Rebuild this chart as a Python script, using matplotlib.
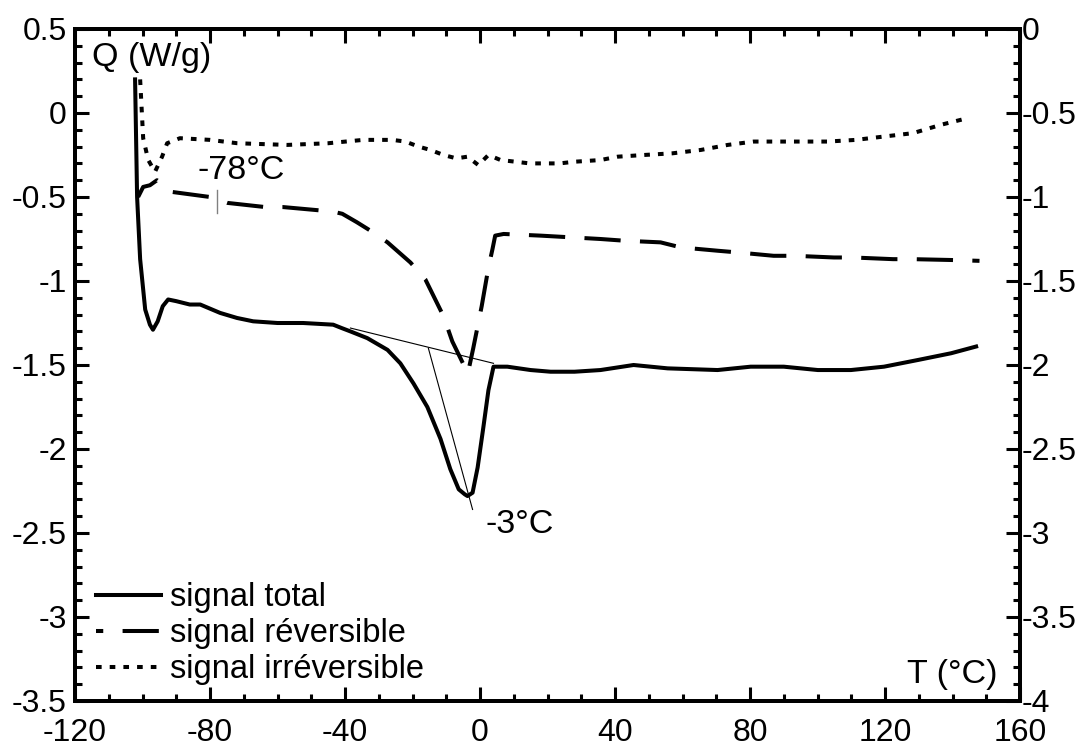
import matplotlib
matplotlib.use("Agg")
import matplotlib.pyplot as plt
from matplotlib.ticker import MultipleLocator, FuncFormatter
from matplotlib.lines import Line2D

plt.rcParams['font.family'] = ['Liberation Sans', 'DejaVu Sans']

# ---- data (T in °C, Q in W/g, left axis) ----
T_total = [-102.2, -101.6, -100.7, -99.2, -97.8, -96.9, -95.5, -94.0, -92.4, -90.0,
           -86.0, -82.9, -77.0, -72.0, -67.2, -60.0, -52.4, -43.5, -41.0, -38.4,
           -33.4, -27.4, -23.6, -19.7, -15.6, -11.7, -8.8, -6.3, -4.5, -3.7,
           -2.2, -0.7, 1.0, 2.5, 4.0, 8.1, 15.0, 20.9, 28.0, 35.7,
           45.5, 55.6, 70.4, 80.2, 90.0, 100.1, 109.9, 119.7, 129.8, 139.6,
           147.0]
Q_total = [0.20, -0.50, -0.87, -1.17, -1.26, -1.29, -1.24, -1.15, -1.11, -1.12,
           -1.14, -1.14, -1.19, -1.22, -1.24, -1.25, -1.25, -1.26, -1.28, -1.30,
           -1.34, -1.41, -1.49, -1.61, -1.75, -1.94, -2.12, -2.24, -2.27, -2.28,
           -2.26, -2.11, -1.87, -1.65, -1.51, -1.51, -1.53, -1.54, -1.54, -1.53,
           -1.50, -1.52, -1.53, -1.51, -1.51, -1.53, -1.53, -1.51, -1.47, -1.43,
           -1.39]

T_rev = [-101.3, -99.8, -97.8, -95.7, -91.2, -80.0, -74.9, -63.6, -58.3, -47.3,
         -44.0, -40.8, -36.5, -32.5, -27.4, -20.6, -16.2, -10.8, -8.2, -3.6,
         -2.0, 0.5, 2.5, 3.7, 4.5, 7.0, 18.0, 35.7, 42.6, 53.5,
         59.5, 70.5, 76.4, 87.0, 93.3, 104.9, 110.5, 122.4, 128.3, 139.6,
         148.0]
Q_rev = [-0.50, -0.44, -0.43, -0.40, -0.47, -0.50, -0.535, -0.56, -0.56, -0.58,
         -0.585, -0.60, -0.65, -0.70, -0.77, -0.89, -0.99, -1.21, -1.36, -1.55,
         -1.40, -1.15, -0.92, -0.81, -0.73, -0.72, -0.73, -0.75, -0.76, -0.77,
         -0.80, -0.82, -0.83, -0.85, -0.85, -0.86, -0.86, -0.87, -0.87, -0.875,
         -0.88]

T_irr = [-100.7, -99.8, -98.3, -96.3, -94.2, -92.7, -88.9, -80.0, -71.9, -57.1,
         -45.0, -34.6, -26.0, -22.1, -18.2, -14.7, -10.8, -7.0, -3.7, -0.5,
         2.5, 6.1, 10.5, 14.7, 18.8, 23.6, 28.0, 35.7, 40.8, 48.5,
         57.0, 65.4, 73.4, 81.1, 90.0, 103.0, 111.4, 119.7, 128.3, 136.6,
         144.6]
Q_irr = [0.20, -0.15, -0.28, -0.35, -0.26, -0.18, -0.15, -0.16, -0.18, -0.19,
         -0.18, -0.16, -0.16, -0.17, -0.20, -0.22, -0.25, -0.27, -0.26, -0.31,
         -0.25, -0.28, -0.29, -0.30, -0.30, -0.30, -0.29, -0.28, -0.26, -0.25,
         -0.24, -0.22, -0.19, -0.17, -0.17, -0.17, -0.16, -0.14, -0.12, -0.07,
         -0.03]

# annotation construction lines
base_T = [-38.4, 4.0]
base_Q = [-1.28, -1.49]
peak_T = [-15.3, -2.2]
peak_Q = [-1.40, -2.36]
tg_T = [-78.0, -78.0]
tg_Q = [-0.46, -0.595]

labels = ["signal total", "signal réversible", "signal irréversible"]

# ---- figure ----
fig = plt.figure(figsize=(10.89, 7.47), dpi=100)
ax = fig.add_axes([75/1089, 1-701/747, (1020-75)/1089, (701-29)/747])

lw = 2.9
dash_rev = (2.2, (9.0, 4.8))
dot_irr = (0, (1.4, 2.0))
ax.plot(T_total, Q_total, color='black', lw=lw, solid_joinstyle='round')
ax.plot(T_rev, Q_rev, color='black', lw=lw, linestyle=dash_rev,
        dash_capstyle='butt')
ax.plot(T_irr, Q_irr, color='black', lw=lw, linestyle=dot_irr,
        dash_capstyle='butt')
ax.plot(base_T, base_Q, color='black', lw=0.8)
ax.plot(peak_T, peak_Q, color='black', lw=0.8)
ax.plot(tg_T, tg_Q, color='#808080', lw=1.0)

ax.set_xlim(-120, 160)
ax.set_ylim(-3.5, 0.5)

fmt = FuncFormatter(lambda v, p: ('%g' % round(v, 3)))
ax.xaxis.set_major_locator(MultipleLocator(40))
ax.xaxis.set_minor_locator(MultipleLocator(10))
ax.yaxis.set_major_locator(MultipleLocator(0.5))
ax.yaxis.set_minor_locator(MultipleLocator(0.1))
ax.xaxis.set_major_formatter(fmt)
ax.yaxis.set_major_formatter(fmt)

ax2 = ax.twinx()
ax2.set_ylim(-4, 0)
ax2.yaxis.set_major_locator(MultipleLocator(0.5))
ax2.yaxis.set_minor_locator(MultipleLocator(0.1))
ax2.yaxis.set_major_formatter(fmt)

fs = 23
for a in (ax, ax2):
    for s in a.spines.values():
        s.set_linewidth(2.8)
ax.tick_params(axis='both', which='major', direction='in', length=10, width=2.2,
               labelsize=fs, top=True, right=False)
ax.tick_params(axis='both', which='minor', direction='in', length=5, width=2.2,
               top=True, right=False)
ax.tick_params(axis='x', which='major', pad=12)
ax.tick_params(axis='y', which='major', pad=6)
ax2.tick_params(axis='y', which='major', direction='in', length=10, width=2.2,
                labelsize=fs, pad=1)
ax2.tick_params(axis='y', which='minor', direction='in', length=5, width=2.2)

afs = 24.5
ax.text(-97.2, 0.33, "Q (W/g)", fontsize=afs, ha='center', va='center')
ax.text(139.9, -3.34, "T (°C)", fontsize=afs, ha='center', va='center')
ax.text(-70.8, -0.34, "-78°C", fontsize=afs, ha='center', va='center')
ax.text(11.9, -2.45, "-3°C", fontsize=afs, ha='center', va='center')

handles = [
    Line2D([], [], color='black', lw=lw),
    Line2D([], [], color='black', lw=lw, linestyle=(7.2, (9.0, 4.8)), dash_capstyle='butt'),
    Line2D([], [], color='black', lw=lw, linestyle=dot_irr, dash_capstyle='butt'),
]
ax.legend(handles, labels, loc='lower left', bbox_to_anchor=(0.0085, 0.004),
          frameon=False, fontsize=23.5, handlelength=2.0, handletextpad=0.25,
          labelspacing=0.15, borderaxespad=0.0, borderpad=0.4)

fig.savefig("out.png", dpi=100)
